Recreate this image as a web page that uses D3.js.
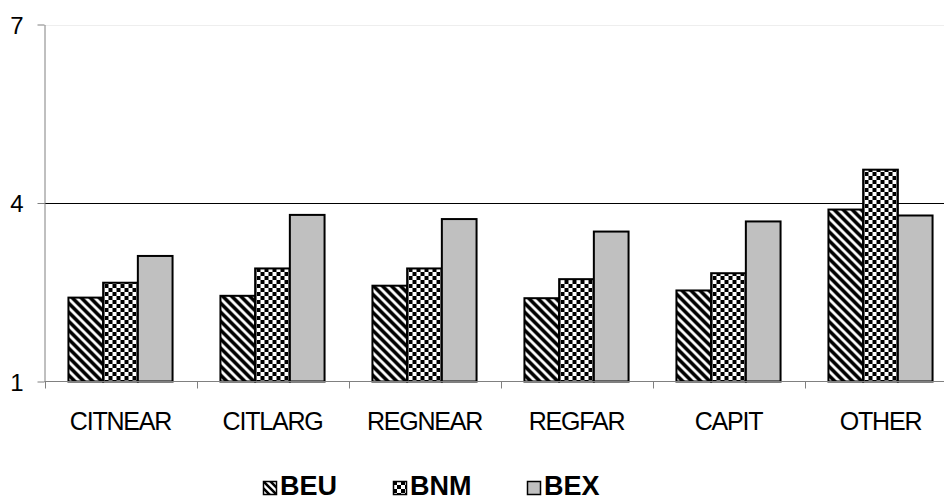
<!DOCTYPE html>
<html>
<head>
<meta charset="utf-8">
<script src="https://cdn.jsdelivr.net/npm/d3@7"></script>
<style>
  html, body { margin: 0; padding: 0; background: #fff; }
  svg { display: block; }
</style>
</head>
<body>
<svg id="chart" width="944" height="502"></svg>
<script>
const categories = ["CITNEAR", "CITLARG", "REGNEAR", "REGFAR", "CAPIT", "OTHER"];
const seriesNames = ["BEU", "BNM", "BEX"];
const beuValues = [2.41, 2.44, 2.61, 2.40, 2.53, 3.89];
const bnmValues = [2.66, 2.90, 2.90, 2.72, 2.82, 4.56];
const bexValues = [3.11, 3.80, 3.73, 3.52, 3.69, 3.79];
const yTickValues = [1, 4, 7];

const seriesValues = { BEU: beuValues, BNM: bnmValues, BEX: bexValues };
const fills = { BEU: "url(#diag)", BNM: "url(#check)", BEX: "#c0c0c0" };
const legendFills = { BEU: "url(#diagL)", BNM: "url(#checkL)", BEX: "#c0c0c0" };

const svg = d3.select("#chart");
const plot = { left: 44.5, right: 956.5, top: 24.5, bottom: 381.5 };

// patterns
const defs = svg.append("defs");
function diag(id, s, w) {
  const p = defs.append("pattern").attr("id", id).attr("patternUnits", "userSpaceOnUse")
    .attr("width", s).attr("height", s);
  p.append("rect").attr("width", s).attr("height", s).attr("fill", "#fff");
  p.append("path")
    .attr("d", `M${-s/4},${-s/4} L${s*1.25},${s*1.25} M${-s/4},${s*0.75} L${s/4},${s*1.25} M${s*0.75},${-s/4} L${s*1.25},${s/4}`)
    .attr("stroke", "#000").attr("stroke-width", w);
}
function check(id, s) {
  const p = defs.append("pattern").attr("id", id).attr("patternUnits", "userSpaceOnUse")
    .attr("width", s).attr("height", s);
  p.append("rect").attr("width", s).attr("height", s).attr("fill", "#fff");
  p.append("rect").attr("x", 0).attr("y", 0).attr("width", s/2).attr("height", s/2).attr("fill", "#000");
  p.append("rect").attr("x", s/2).attr("y", s/2).attr("width", s/2).attr("height", s/2).attr("fill", "#000");
}
diag("diag", 9, 3.6);
check("check", 8);
diag("diagL", 7, 2.6);
check("checkL", 8);

const x0 = d3.scaleBand().domain(categories).range([plot.left, plot.right]).paddingInner(0).paddingOuter(0);
const x1 = d3.scaleBand().domain(seriesNames).range([0, x0.bandwidth()]).paddingInner(0).paddingOuter(0.69);
const y = d3.scaleLinear().domain([1, 7]).range([plot.bottom, plot.top]);

// gridlines
svg.append("g").selectAll("line").data(yTickValues.filter(v => v > 1)).join("line")
  .attr("x1", plot.left).attr("x2", plot.right)
  .attr("y1", d => Math.round(y(d)) + 0.5).attr("y2", d => Math.round(y(d)) + 0.5)
  .attr("stroke", d => d === 7 ? "#eeeeee" : "#000")
  .attr("stroke-width", 1);

// bars
const groups = svg.append("g").selectAll("g").data(categories).join("g")
  .attr("transform", d => `translate(${x0(d)},0)`);
groups.selectAll("rect")
  .data((c, i) => seriesNames.map(s => ({ s, v: seriesValues[s][i] })))
  .join("rect")
  .attr("x", d => x1(d.s))
  .attr("y", d => y(d.v))
  .attr("width", x1.bandwidth())
  .attr("height", d => y(1) - y(d.v))
  .attr("fill", d => fills[d.s])
  .attr("stroke", "#000")
  .attr("stroke-width", 2);

// y axis
const yAxis = svg.append("g").attr("transform", `translate(${plot.left},0)`)
  .call(d3.axisLeft(y).tickValues(yTickValues).tickFormat(d3.format("d")).tickSize(7).tickSizeOuter(0));
yAxis.select(".domain").attr("stroke", "#808080");
yAxis.selectAll(".tick line").attr("stroke", "#808080");
yAxis.selectAll(".tick text")
  .attr("x", -21)
  .attr("dy", "0.36em")
  .attr("fill", "#000")
  .style("font-family", "'Liberation Sans', Arial, sans-serif")
  .style("font-size", "24px");

// x axis baseline + boundary ticks
const boundaries = categories.map(c => x0(c)).concat([x0(categories[categories.length - 1]) + x0.step()]);
svg.append("line").attr("x1", plot.left).attr("x2", plot.right)
  .attr("y1", plot.bottom).attr("y2", plot.bottom).attr("stroke", "#808080");
svg.append("g").selectAll("line").data(boundaries).join("line")
  .attr("x1", d => Math.round(d) + 0.5).attr("x2", d => Math.round(d) + 0.5)
  .attr("y1", plot.bottom).attr("y2", plot.bottom + 7)
  .attr("stroke", "#808080");

// x labels
const xAxis = svg.append("g").attr("transform", `translate(0,${plot.bottom})`)
  .call(d3.axisBottom(x0).tickSize(0));
xAxis.select(".domain").remove();
xAxis.selectAll(".tick text")
  .attr("y", 48)
  .attr("dy", 0)
  .attr("fill", "#000")
  .style("font-family", "'Liberation Sans', Arial, sans-serif")
  .style("font-size", "25px")
  .style("letter-spacing", "-1.2px");

// legend
const legendX = [263, 393, 527];
const legend = svg.append("g").selectAll("g").data(seriesNames).join("g")
  .attr("transform", (d, i) => `translate(${legendX[i]},481)`);
legend.append("rect").attr("x", 0.5).attr("y", 0.5).attr("width", 13).attr("height", 13)
  .attr("fill", d => legendFills[d]).attr("stroke", "#000").attr("stroke-width", 1.5);
legend.append("text").attr("x", 17).attr("y", 14)
  .text(d => d)
  .attr("fill", "#000")
  .style("font-family", "'Liberation Sans', Arial, sans-serif")
  .style("font-weight", "bold")
  .style("font-size", "27px");
</script>
</body>
</html>
